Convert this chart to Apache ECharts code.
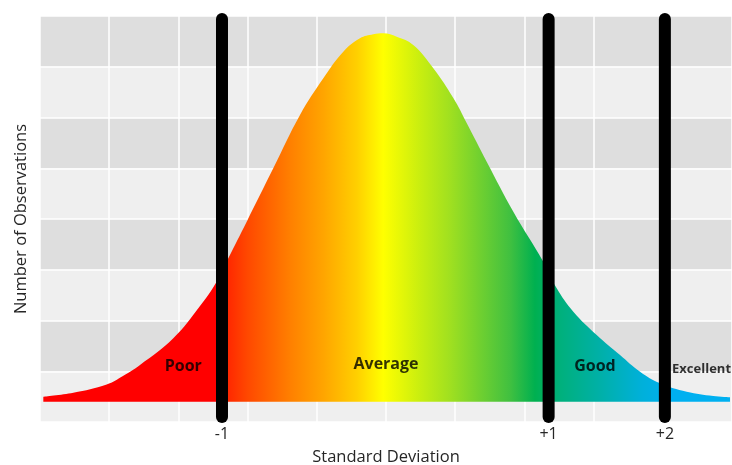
<!DOCTYPE html>
<html>
<head>
<meta charset="utf-8">
<title>Performance Distribution</title>
<script src="https://cdn.jsdelivr.net/npm/echarts@6/dist/echarts.min.js"></script>
<style>
  html, body { margin: 0; padding: 0; background: #ffffff; }
  #chart { width: 732px; height: 465px; }
</style>
</head>
<body>
<div id="chart"></div>
<script>
// Bell curve outline (x in grid columns, y in grid rows)
const curveX = [0.048, 0.481, 0.964, 1.199, 1.445, 1.926, 2.312, 2.553, 2.721, 2.987, 3.371, 3.757, 4.094, 4.383, 4.624, 4.816, 4.961,
                5.155, 5.394, 5.684, 5.973, 6.166, 6.455, 6.840, 7.273, 7.467, 7.707, 8.045, 8.382, 8.671, 8.960, 9.345, 9.730, 9.971];
const curveY = [0.499, 0.577, 0.739, 0.906, 1.123, 1.649, 2.286, 2.764, 3.226, 3.947, 4.999, 6.049, 6.772, 7.297, 7.561, 7.640, 7.659,
                7.592, 7.429, 6.970, 6.384, 5.892, 5.129, 4.144, 3.159, 2.634, 2.173, 1.714, 1.320, 0.991, 0.763, 0.597, 0.512, 0.487];
const curveBase = 0.399;

// Standard deviation markers
const sdLabels = ['-1', '+1', '+2'];
const sdValues = [2.63, 7.35, 9.03];

// Performance zones
const zoneNames = ['Poor', 'Average', 'Good', 'Excellent'];
const zoneX = [2.07, 5.0, 8.02, 9.56];
const zoneY = [1.09, 1.14, 1.09, 1.03];

const chart = echarts.init(document.getElementById('chart'), null, { renderer: 'canvas' });

const fontFamily = '"Open Sans", "Noto Sans", sans-serif';

const curveData = curveX.map((x, i) => [x, curveY[i]]);

const markerSeries = sdValues.map((x) => ({
  type: 'line',
  data: [[x, 0.10], [x, 7.94]],
  symbol: 'none',
  silent: true,
  z: 5,
  lineStyle: { color: '#000000', width: 12, cap: 'round' }
}));

const option = {
  animation: false,
  backgroundColor: '#ffffff',
  grid: { left: 40, right: 0, top: 16, bottom: 43, outerBoundsMode: 'none', containLabel: false },
  xAxis: {
    type: 'value',
    min: 0,
    max: 10,
    interval: 1,
    name: 'Standard Deviation',
    nameLocation: 'middle',
    nameGap: 27,
    nameTextStyle: { color: '#262626', fontSize: 16.5, fontFamily },
    axisLine: { show: false },
    axisTick: { show: false },
    axisLabel: {
      customValues: sdValues,
      margin: 4,
      color: '#262626',
      fontSize: 16,
      fontFamily,
      formatter: (v) => {
        const i = sdValues.findIndex((s) => Math.abs(s - v) < 1e-6);
        return i >= 0 ? sdLabels[i] : '';
      }
    },
    splitLine: { show: true, lineStyle: { color: '#ffffff', width: 1.5 } }
  },
  yAxis: {
    type: 'value',
    min: 0,
    max: 8,
    interval: 1,
    name: 'Number of Observations',
    nameLocation: 'middle',
    nameGap: 10,
    nameRotate: 90,
    nameTextStyle: { color: '#262626', fontSize: 16.5, fontFamily },
    axisLine: { show: false },
    axisTick: { show: false },
    axisLabel: { show: false },
    splitLine: { show: true, lineStyle: { color: '#ffffff', width: 1.5 } },
    splitArea: { show: true, areaStyle: { color: ['#efefef', '#dedede'] } }
  },
  series: [
    {
      type: 'line',
      data: curveData,
      smooth: 0.4,
      symbol: 'none',
      silent: true,
      z: 3,
      lineStyle: { width: 0 },
      areaStyle: {
        origin: curveBase,
        opacity: 1,
        color: new echarts.graphic.LinearGradient(0, 0, 1, 0, [
          { offset: 0.000, color: '#ff0000' },
          { offset: 0.250, color: '#ff0000' },
          { offset: 0.269, color: '#ff2800' },
          { offset: 0.297, color: '#ff4800' },
          { offset: 0.360, color: '#ff8000' },
          { offset: 0.408, color: '#ffa500' },
          { offset: 0.457, color: '#ffd000' },
          { offset: 0.495, color: '#ffff00' },
          { offset: 0.549, color: '#c8ee10' },
          { offset: 0.592, color: '#a0e020' },
          { offset: 0.636, color: '#70d030' },
          { offset: 0.680, color: '#40c040' },
          { offset: 0.716, color: '#00b050' },
          { offset: 0.753, color: '#00b07c' },
          { offset: 0.811, color: '#00b0a8' },
          { offset: 0.869, color: '#00b0d8' },
          { offset: 0.913, color: '#00b0f0' },
          { offset: 1.000, color: '#00b0f0' }
        ])
      }
    },
    ...markerSeries,
    {
      type: 'scatter',
      symbolSize: 0,
      silent: true,
      z: 6,
      data: zoneNames.map((n, i) => ({ name: n, value: [zoneX[i], zoneY[i]] })),
      label: {
        show: true,
        position: 'inside',
        formatter: (p) => p.name,
        color: '#000000',
        fontWeight: 'bold',
        fontFamily,
        fontSize: 16
      }
    }
  ]
};

// Smaller type for the narrow right-hand zone
option.series[option.series.length - 1].data[3].label = { fontSize: 13 };

chart.setOption(option);
</script>
</body>
</html>
